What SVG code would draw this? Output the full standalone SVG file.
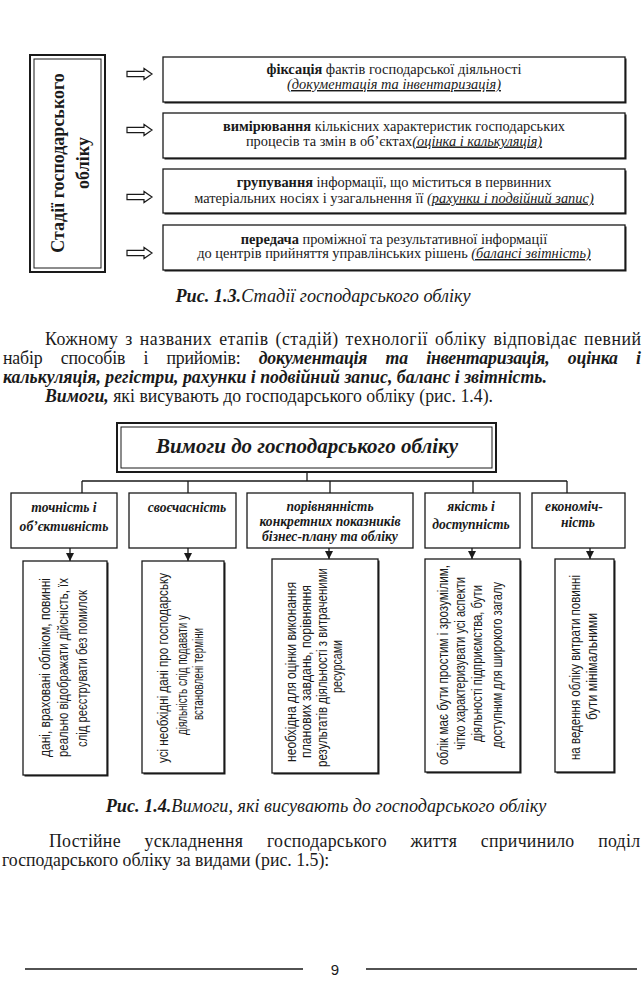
<svg xmlns="http://www.w3.org/2000/svg" width="643" height="1000" viewBox="0 0 643 1000">
<style>
.box{fill:#fff;stroke:#1a1a1a;stroke-width:1.3}
.sh{fill:#1a1a1a}
.ln{stroke:#1a1a1a;stroke-width:1.3;fill:none}
.t{font-family:"Liberation Serif","Times New Roman",serif;fill:#1a1a1a}
.s{font-family:"Liberation Sans",Arial,sans-serif;fill:#1a1a1a;font-size:14px}
.b{font-weight:bold}
.i{font-style:italic}
.u{text-decoration:underline}
.m{text-anchor:middle}
.tb{font-size:14.4px}
.lv{font-size:13.6px}
.p{font-size:17.8px}
.cap{font-size:18.2px}
</style>
<defs>
<path id="harr" d="M0,-2.6 H17 V-5.6 L25,0 L17,5.6 V2.6 H0 Z" fill="#fff" stroke="#1a1a1a" stroke-width="1.2"/>
<marker id="ah" markerWidth="8" markerHeight="8" refX="8" refY="4" orient="auto" markerUnits="userSpaceOnUse">
<path d="M0,0 L8,4 L0,8 Z" fill="#1a1a1a"/>
</marker>
</defs>
<rect width="643" height="1000" fill="#fff"/>

<!-- Figure 1.3 -->
<g id="stages-title">
<rect x="30" y="55" width="75" height="217" fill="#fff" stroke="#1a1a1a" stroke-width="2"/>
<rect x="34" y="59" width="67" height="209" fill="none" stroke="#1a1a1a" stroke-width="1"/>
<text class="t b m" font-size="18" transform="translate(64,163) rotate(-90)">Стадії господарського</text>
<text class="t b m" font-size="18" transform="translate(89,163) rotate(-90)">обліку</text>
</g>

<g id="connectors-top">
<use href="#harr" x="127" y="74"/>
<use href="#harr" x="127" y="130"/>
<use href="#harr" x="127" y="197"/>
<use href="#harr" x="127" y="253"/>
</g>

<g id="stage1">
<rect class="sh" x="164.5" y="58.5" width="462" height="45"/>
<rect class="box" x="163" y="57" width="462" height="45"/>
<text class="t tb m" x="394" y="73.5"><tspan class="b">фіксація</tspan> фактів господарської діяльності</text>
<text class="t tb i u m" x="394" y="89">(документація та інвентаризація)</text>
</g>
<g id="stage2">
<rect class="sh" x="164.5" y="114.5" width="462" height="45"/>
<rect class="box" x="163" y="113" width="462" height="45"/>
<text class="t tb m" x="394" y="130.5"><tspan class="b">вимірювання</tspan> кількісних характеристик господарських</text>
<text class="t tb m" x="394" y="145.5">процесів та змін в об’єктах<tspan class="i u">(оцінка і калькуляція)</tspan></text>
</g>
<g id="stage3">
<rect class="sh" x="164.5" y="170.5" width="462" height="44"/>
<rect class="box" x="163" y="169" width="462" height="44"/>
<text class="t tb m" x="394" y="187"><tspan class="b">групування</tspan> інформації, що міститься в первинних</text>
<text class="t tb m" x="394" y="202.5">матеріальних носіях і узагальнення її <tspan class="i u">(рахунки і подвійний запис)</tspan></text>
</g>
<g id="stage4">
<rect class="sh" x="164.5" y="226.5" width="462" height="45"/>
<rect class="box" x="163" y="225" width="462" height="45"/>
<text class="t tb m" x="394" y="243.5"><tspan class="b">передача</tspan> проміжної та результативної інформації</text>
<text class="t tb m" x="394" y="258">до центрів прийняття управлінських рішень <tspan class="i u">(балансі звітність)</tspan></text>
</g>

<text class="t cap i m" x="323" y="302"><tspan class="b">Рис. 1.3.</tspan>Стадії господарського обліку</text>

<!-- paragraph -->
<text class="t p" x="45" y="345" word-spacing="2" textLength="596" lengthAdjust="spacing">Кожному з названих етапів (стадій) технології обліку відповідає певний</text>
<text class="t p" x="3" y="364" word-spacing="14" textLength="638" lengthAdjust="spacing">набір способів і прийомів: <tspan class="b i">документація та інвентаризація, оцінка і</tspan></text>
<text class="t p b i" x="3" y="383">калькуляція, регістри, рахунки і подвійний запис, баланс і звітність.</text>
<text class="t p" x="45" y="402"><tspan class="b i">Вимоги,</tspan> які висувають до господарського обліку (рис. 1.4).</text>

<!-- Figure 1.4 -->
<g id="req-title">
<rect x="117" y="423" width="379" height="49" fill="#fff" stroke="#1a1a1a" stroke-width="2"/>
<rect x="121" y="427" width="371" height="41" fill="none" stroke="#1a1a1a" stroke-width="1"/>
<text class="t b i m" font-size="21" x="307" y="453">Вимоги до господарського обліку</text>
</g>

<g id="connectors-req">
<path class="ln" d="M307,472 V481 M82,481 H567 M82,481 V493 M188,481 V493 M330,481 V493 M473,481 V493 M567,481 V493"/>
<path class="ln" marker-end="url(#ah)" d="M70,548 V561"/>
<path class="ln" marker-end="url(#ah)" d="M188,548 V561"/>
<path class="ln" marker-end="url(#ah)" d="M329,548 V559"/>
<path class="ln" marker-end="url(#ah)" d="M472,548 V559"/>
<path class="ln" marker-end="url(#ah)" d="M590,548 V559"/>
</g>

<g id="req1">
<rect class="box" x="11" y="493" width="106" height="55"/>
<text class="t lv b i m" x="64" y="512">точність і</text>
<text class="t lv b i m" x="64" y="530.5">об’єктивність</text>
</g>
<g id="req2">
<rect class="box" x="129" y="493" width="107" height="55"/>
<text class="t lv b i m" x="187" y="512">своєчасність</text>
</g>
<g id="req3">
<rect class="box" x="247" y="493" width="166" height="55"/>
<text class="t lv b i m" x="330" y="510.5">порівнянність</text>
<text class="t lv b i m" x="330" y="525.5">конкретних показників</text>
<text class="t lv b i m" x="330" y="540.5">бізнес-плану та обліку</text>
</g>
<g id="req4">
<rect class="box" x="425" y="493" width="95" height="55"/>
<text class="t lv b i m" x="471" y="510.5">якість і</text>
<text class="t lv b i m" x="471" y="528.5">доступність</text>
</g>
<g id="req5">
<rect class="box" x="532" y="493" width="93" height="55"/>
<text class="t lv b i m" x="574" y="510.5">економіч-</text>
<text class="t lv b i m" x="578" y="527">ність</text>
</g>

<g id="det1">
<rect class="sh" x="24.5" y="562.5" width="84" height="214"/>
<rect class="box" x="23" y="561" width="84" height="214"/>
<text class="s m" transform="translate(50,667.5) rotate(-90)" textLength="179" lengthAdjust="spacingAndGlyphs">дані, враховані обліком, повинні</text>
<text class="s m" transform="translate(68,667.5) rotate(-90)" textLength="179" lengthAdjust="spacingAndGlyphs">реально відображати дійсність, їх</text>
<text class="s m" transform="translate(87,668.5) rotate(-90)" textLength="157" lengthAdjust="spacingAndGlyphs">слід реєструвати без помилок</text>
</g>
<g id="det2">
<rect class="sh" x="143.5" y="562.5" width="82" height="212"/>
<rect class="box" x="142" y="561" width="82" height="212"/>
<text class="s m" transform="translate(168,668) rotate(-90)" textLength="190" lengthAdjust="spacingAndGlyphs">усі необхідні дані про господарську</text>
<text class="s m" transform="translate(187,675) rotate(-90)" textLength="120" lengthAdjust="spacingAndGlyphs">діяльність слід подавати у</text>
<text class="s m" transform="translate(203,674) rotate(-90)" textLength="92" lengthAdjust="spacingAndGlyphs">встановлені терміни</text>
</g>
<g id="det3">
<rect class="sh" x="273.5" y="560.5" width="106" height="214"/>
<rect class="box" x="272" y="559" width="106" height="214"/>
<text class="s m" transform="translate(296,672) rotate(-90)" textLength="180" lengthAdjust="spacingAndGlyphs">необхідна для оцінки виконання</text>
<text class="s m" transform="translate(311,671.5) rotate(-90)" textLength="173" lengthAdjust="spacingAndGlyphs">планових завдань, порівняння</text>
<text class="s m" transform="translate(327,667.5) rotate(-90)" textLength="199" lengthAdjust="spacingAndGlyphs">результатів діяльності з витраченими</text>
<text class="s m" transform="translate(342,666.5) rotate(-90)" textLength="53" lengthAdjust="spacingAndGlyphs">ресурсами</text>
</g>
<g id="det4">
<rect class="sh" x="426.5" y="560.5" width="95" height="213"/>
<rect class="box" x="425" y="559" width="95" height="213"/>
<text class="s m" transform="translate(448,665) rotate(-90)" textLength="200" lengthAdjust="spacingAndGlyphs">облік має бути простим і зрозумілим,</text>
<text class="s m" transform="translate(465,663.5) rotate(-90)" textLength="173" lengthAdjust="spacingAndGlyphs">чітко характеризувати усі аспекти</text>
<text class="s m" transform="translate(482,663.5) rotate(-90)" textLength="157" lengthAdjust="spacingAndGlyphs">діяльності підприємства, бути</text>
<text class="s m" transform="translate(501.5,665) rotate(-90)" textLength="166" lengthAdjust="spacingAndGlyphs">доступним для широкого загалу</text>
</g>
<g id="det5">
<rect class="sh" x="556.5" y="560.5" width="59" height="213"/>
<rect class="box" x="555" y="559" width="59" height="213"/>
<text class="s m" transform="translate(580,667.5) rotate(-90)" textLength="185" lengthAdjust="spacingAndGlyphs">на ведення обліку витрати повинні</text>
<text class="s m" transform="translate(597,666.5) rotate(-90)" textLength="107" lengthAdjust="spacingAndGlyphs">бути мінімальними</text>
</g>

<text class="t cap i m" x="326" y="812"><tspan class="b">Рис. 1.4.</tspan>Вимоги, які висувають до господарського обліку</text>

<text class="t p" x="49" y="847" word-spacing="19" textLength="591" lengthAdjust="spacing">Постійне ускладнення господарського життя спричинило поділ</text>
<text class="t p" x="2" y="866">господарського обліку за видами (рис. 1.5):</text>

<g id="footer">
<path class="ln" d="M25,969 H303 M366,969 H637"/>
<text class="s m" x="335" y="975" style="font-size:15px">9</text>
</g>
</svg>
